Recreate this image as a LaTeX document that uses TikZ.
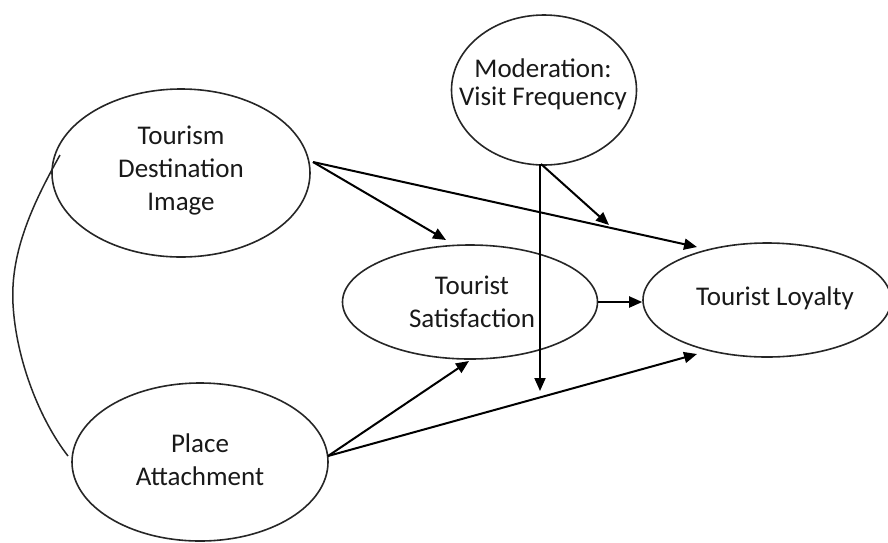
\documentclass[tikz,border=0pt]{standalone}
\usepackage{fontspec}
\setmainfont{Carlito}
\usetikzlibrary{shapes.geometric,arrows.meta}
\begin{document}
\begin{tikzpicture}[x=1pt,y=-1pt,
  ell/.style={draw=black!85, line width=1.6pt, ellipse, inner sep=0pt},
  txt/.style={font=\fontsize{27}{33}\selectfont, align=center, text=black!90},
  arr/.style={draw=black, line width=2pt, -{Triangle[length=13pt,width=11pt]}},
  corr/.style={draw=black!85, line width=1.5pt}]
\useasboundingbox (0,0) rectangle (888,542);
\begin{scope}
\clip (0,0) rectangle (888,542);
\node[ell, minimum width=258pt, minimum height=168pt] (tdi) at (181,173) {};
\node[txt] (tdit) at (181,171) {Tourism\\Destination\\Image};
\node[ell, minimum width=185pt, minimum height=150pt] (mod) at (544,90) {};
\node[txt, font=\fontsize{27}{28}\selectfont] (modt) at (543,84) {Moderation:\\Visit Frequency};
\node[ell, minimum width=255pt, minimum height=114pt] (sat) at (470,302) {};
\node[txt] (satt) at (472,302) {Tourist\\Satisfaction};
\node[ell, minimum width=248pt, minimum height=114pt] (loy) at (767,300) {};
\node[txt] (loyt) at (775,298) {Tourist Loyalty};
\node[ell, minimum width=256pt, minimum height=158pt] (pa) at (200,462) {};
\node[txt] (pat) at (200,460) {Place\\Attachment};
\end{scope}
% named connector ends
\coordinate (tdiR) at (313,162);
\coordinate (satTop) at (446,240);
\coordinate (loyTL) at (697,247);
\coordinate (modB) at (541,164);
\coordinate (modMid) at (609,225);
\coordinate (modV) at (540,164);
\coordinate (modDown) at (540,391);
\coordinate (paR) at (328,456);
\coordinate (satBot) at (469,361);
\coordinate (loyBL) at (697,354);
\coordinate (cA) at (60,155);
\coordinate (cM) at (13,304);
\coordinate (cB) at (68,456);
% arrows
\draw[arr] (tdiR) -- (satTop);
\draw[arr] (tdiR) -- (loyTL);
\draw[arr] (modB) -- (modMid);
\draw[arr] (modV) -- (modDown);
\draw[arr] (sat.east) -- (sat.east -| loy.west);
\draw[arr] (paR) -- (satBot);
\draw[arr] (paR) -- (loyBL);
% correlation curve
\draw[corr] (cA) .. controls (35,200) and (10,250) .. (cM) .. controls (16,360) and (40,420) .. (cB);
\end{tikzpicture}
\end{document}
